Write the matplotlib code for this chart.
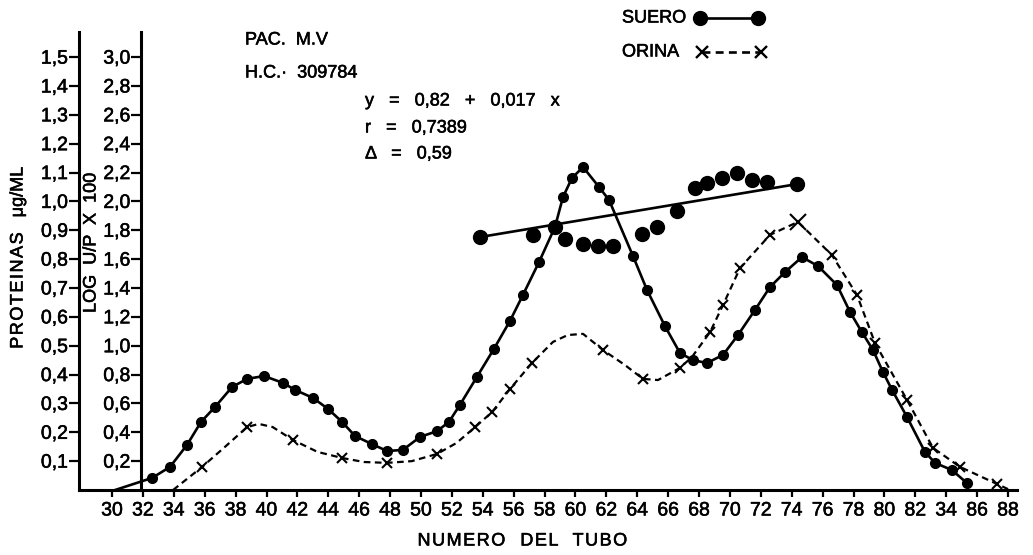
import matplotlib
matplotlib.use("Agg")
import matplotlib.pyplot as plt
from matplotlib.lines import Line2D
import matplotlib.patheffects as pe

plt.rcParams['font.family'] = ['Liberation Sans', 'DejaVu Sans']

# ---------------- data ----------------
suero_tubo = [30.2, 32.6, 33.75, 34.85, 35.76, 36.67, 37.77, 38.74, 39.84, 41.07,
              41.84, 43.01, 43.98, 44.89, 45.73, 46.83, 47.80, 48.83, 49.94, 51.04,
              51.81, 52.52, 53.62, 54.72, 55.76, 56.60, 57.64, 58.67, 59.19, 59.77,
              60.49, 61.52, 62.17, 63.72, 64.63, 65.79, 66.76, 67.6, 68.51, 69.55,
              70.52, 71.62, 72.59, 73.56, 74.66, 75.70, 76.93, 77.77, 78.54, 79.26,
              79.90, 80.49, 81.46, 82.62, 83.27, 84.37, 85.34]
suero_prot = [0.0, 0.042, 0.080, 0.156, 0.236, 0.288, 0.357, 0.385, 0.395, 0.371,
              0.347, 0.319, 0.281, 0.236, 0.187, 0.159, 0.135, 0.139, 0.184, 0.204,
              0.236, 0.295, 0.392, 0.489, 0.586, 0.676, 0.790, 0.911, 1.015, 1.081,
              1.119, 1.050, 1.005, 0.811, 0.693, 0.568, 0.475, 0.450, 0.440, 0.468,
              0.537, 0.624, 0.703, 0.755, 0.807, 0.776, 0.710, 0.617, 0.547, 0.485,
              0.409, 0.347, 0.253, 0.132, 0.094, 0.069, 0.024]

orina_tubo = [33.95, 35.83, 37.3, 38.74, 39.5, 40.4, 41.72, 43.3, 44.89, 46.3,
              47.80, 49.4, 51.04, 52.3, 53.50, 54.60, 55.76, 57.18, 58.54, 59.5,
              60.49, 61.78, 63.2, 64.37, 65.34, 66.76, 67.54, 68.71, 69.55, 70.65,
              72.59, 74.40, 76.60, 78.22, 79.39, 81.46, 83.14, 84.89, 87.28, 88.0]
orina_prot = [0.0, 0.080, 0.149, 0.218, 0.229, 0.218, 0.173, 0.132, 0.111, 0.097,
              0.094, 0.100, 0.125, 0.163, 0.218, 0.270, 0.350, 0.440, 0.513, 0.537,
              0.541, 0.485, 0.433, 0.385, 0.381, 0.423, 0.461, 0.547, 0.641, 0.769,
              0.884, 0.929, 0.814, 0.676, 0.509, 0.312, 0.146, 0.080, 0.021, 0.003]
orina_marcas = [1, 3, 6, 8, 10, 12, 14, 15, 16, 17, 21, 23, 25, 27, 28, 29, 30,
                32, 33, 34, 35, 36, 37, 38]
orina_pico = 31

reg_tubo = [53.82, 57.25, 58.67, 59.32, 60.49, 61.46, 62.43, 64.30, 65.27, 66.57,
            67.73, 68.51, 69.48, 70.45, 71.42, 72.39, 74.34]
reg_log = [1.753, 1.767, 1.822, 1.739, 1.705, 1.691, 1.691, 1.774, 1.822, 1.933,
           2.093, 2.128, 2.162, 2.197, 2.148, 2.134, 2.120]
recta_tubo = [53.82, 74.34]
recta_log = [1.753, 2.120]

x_ticks = list(range(30, 90, 2))
x_labels = [str(t) for t in x_ticks]
x_labels[x_ticks.index(84)] = "34"
prot_ticks = [0.1, 0.2, 0.3, 0.4, 0.5, 0.6, 0.7, 0.8, 0.9, 1.0, 1.1, 1.2, 1.3, 1.4, 1.5]
log_ticks = [0.2, 0.4, 0.6, 0.8, 1.0, 1.2, 1.4, 1.6, 1.8, 2.0, 2.2, 2.4, 2.6, 2.8, 3.0]

# ---------------- figure ----------------
W, H = 1033, 555
fig = plt.figure(figsize=(W / 100, H / 100), dpi=100)
L, R, B, T = 79, 1017, 490, 32
ax = fig.add_axes([L / W, 1 - B / H, (R - L) / W, (B - T) / H])
ymax = 1.587
ax.set_xlim(27.86, 88.58)
ax.set_ylim(0, ymax)

bold = [pe.withStroke(linewidth=0.4, foreground='black')]

for s in ['top', 'right']:
    ax.spines[s].set_visible(False)
ax.spines['left'].set_linewidth(2.2)
ax.spines['bottom'].set_linewidth(2.2)

TS = 14
ax.set_xticks(x_ticks)
ax.set_xticklabels(x_labels)
ax.set_yticks(prot_ticks)
ax.set_yticklabels([f"{v:.1f}".replace('.', ',') for v in prot_ticks])
ax.tick_params(axis='x', direction='out', length=5, width=1.6, pad=4, labelsize=TS)
ax.tick_params(axis='y', direction='out', length=7, width=1.6, pad=1, labelsize=TS)

# second axis (LOG U/P x 100)
ax2 = ax.twinx()
ax2.set_ylim(0, 2 * ymax)
for s in ['top', 'right', 'bottom']:
    ax2.spines[s].set_visible(False)
ax2.spines['left'].set_visible(True)
ax2.spines['left'].set_position(('data', 31.9))
ax2.spines['left'].set_linewidth(2.2)
ax2.yaxis.tick_left()
ax2.set_yticks(log_ticks)
ax2.set_yticklabels([f"{v:.1f}".replace('.', ',') for v in log_ticks])
ax2.tick_params(axis='y', direction='out', length=7, width=1.6, pad=1, labelsize=TS)

for lab in ax.get_xticklabels() + ax.get_yticklabels() + ax2.get_yticklabels():
    lab.set_path_effects(bold)

# suero
ax.plot(suero_tubo, suero_prot, color='black', lw=1.9, marker='o', ms=7,
        markevery=list(range(1, len(suero_tubo))), zorder=3)
# orina
ax.plot(orina_tubo, orina_prot, color='black', lw=1.6, ls=(0, (3, 2)),
        marker='x', ms=6.5, mew=1.5, markevery=orina_marcas, zorder=3)
ax.plot([orina_tubo[orina_pico]], [orina_prot[orina_pico]], color='black',
        marker='x', ms=11, mew=1.5, ls='none', zorder=3)

# regression
ax2.plot(reg_tubo, reg_log, 'o', color='black', ms=10, zorder=4)
ax2.plot(recta_tubo, recta_log, color='black', lw=1.9, zorder=4)

# ---------------- texts ----------------
def ft(x, y, s, **kw):
    fig.text(x / W, 1 - y / H, s, path_effects=bold, **kw)

def spaced(s):
    return "\u200a".join(s)

FS = 13
ft(245, 40, "PAC.  M.V", fontsize=FS, va='center', ha='left')
ft(245, 73, "H.C.\u00b7  309784", fontsize=FS, va='center', ha='left')
ft(365, 101, "y   =   0,82   +   0,017   x", fontsize=FS, va='center', ha='left')
ft(365, 128, "r   =   0,7389", fontsize=FS, va='center', ha='left')
ft(365, 154, "\u0394   =   0,59", fontsize=FS, va='center', ha='left')

ft(522, 541, spaced("NUMERO") + "   " + spaced("DEL") + "   " + spaced("TUBO"),
   fontsize=FS, ha='center', va='center')
ft(18, 258, spaced("PROTEINAS") + "   \u03bcg/ML", fontsize=FS, rotation=90,
   ha='center', va='center')
ft(91, 243, "LOG  U/P  X  100", fontsize=FS, rotation=90, ha='center', va='center')

# legend
ft(622, 18, "SUERO", fontsize=FS, va='center', ha='left')
ft(622, 52, "ORINA", fontsize=FS, va='center', ha='left')
fig.add_artist(Line2D([700 / W, 758 / W], [1 - 18 / H, 1 - 18 / H], color='black',
                      lw=1.9, marker='o', ms=10, transform=fig.transFigure))
fig.add_artist(Line2D([702 / W, 761 / W], [1 - 52 / H, 1 - 52 / H], color='black',
                      lw=1.9, ls=(0, (3, 2)), marker='x', ms=9, mew=1.7,
                      transform=fig.transFigure))

fig.savefig("out.png", dpi=100, facecolor='white')
